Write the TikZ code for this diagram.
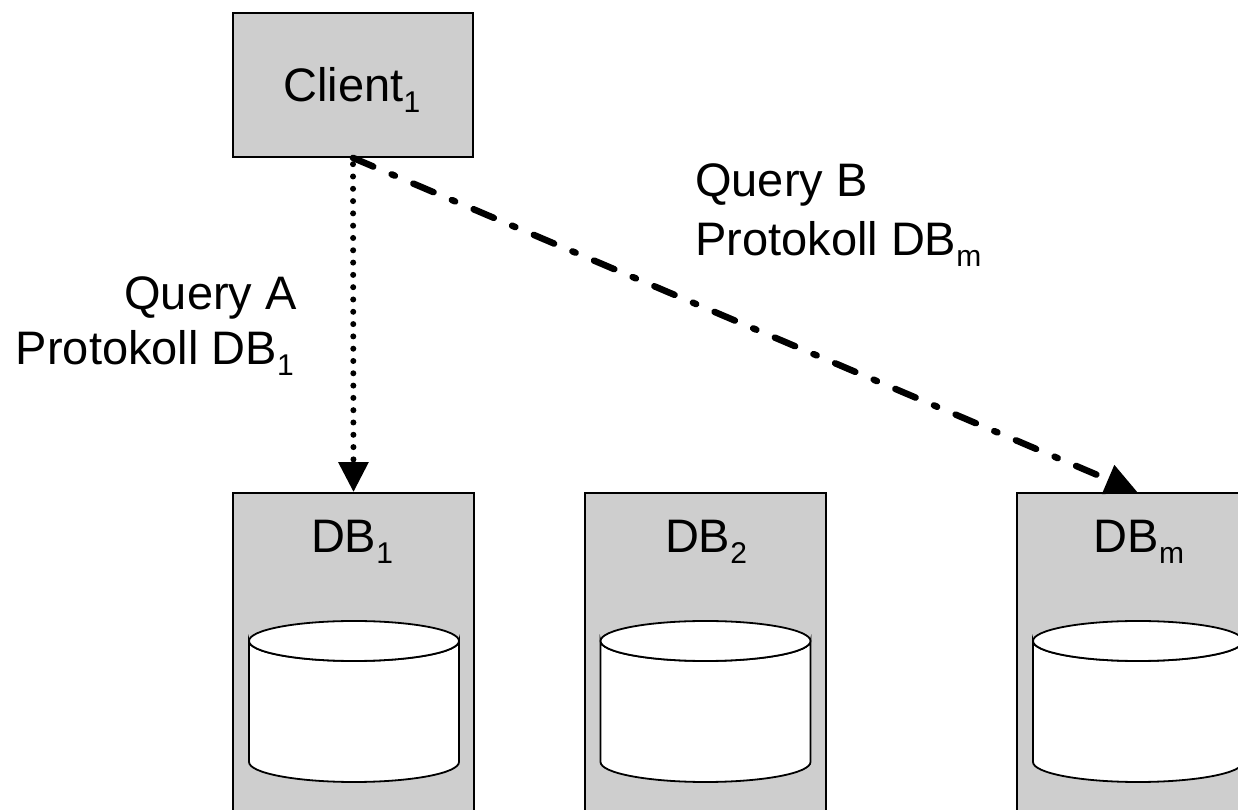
\documentclass[tikz,border=0pt]{standalone}
\usepackage{fontspec}
\setmainfont{Liberation Sans}
\usetikzlibrary{arrows.meta}
\definecolor{boxgray}{RGB}{206,206,206}
\newcommand\dsub[1]{\raisebox{-10.5pt}{\fontsize{30}{32}\selectfont #1}}
\tikzset{
  box/.style={draw=black, line width=1.8pt, fill=boxgray, rectangle, inner sep=0pt},
  txt/.style={inner sep=0pt, font=\fontsize{47}{55}\selectfont},
  cylline/.style={draw=black, line width=1.8pt, fill=white},
  dotconn/.style={line width=6pt, line cap=round, dash pattern=on 0pt off 12.3pt, dash phase=6pt,
    -{Triangle[length=30pt,width=29pt]}},
  dashdotconn/.style={line width=6.5pt, line cap=round, dash pattern=on 22pt off 20pt on 3.5pt off 20pt,
    -{Triangle[length=32pt,width=30pt]}}
}
\begin{document}
\begin{tikzpicture}[x=1pt,y=1pt]
\useasboundingbox (0,0) rectangle (1238,810);
\clip (0,0) rectangle (1238,810);
% client
\node[box, minimum width=240pt, minimum height=144pt] (client) at (353,725) {};
\node[txt, anchor=base] (clientlbl) at (352,708) {Client\dsub{1}};
% databases
\node[box, minimum width=241pt, minimum height=342pt] (db1) at (353.5,146) {};
\node[box, minimum width=241pt, minimum height=342pt] (db2) at (705.5,146) {};
\node[box, minimum width=241pt, minimum height=342pt] (dbm) at (1137.5,146) {};
\node[txt, anchor=base] (db1lbl) at (352,257) {DB\dsub{1}};
\node[txt, anchor=base] (db2lbl) at (706,257) {DB\dsub{2}};
\node[txt, anchor=base] (dbmlbl) at (1139,257) {DB\dsub{m}};
% cylinders
\foreach \cx in {354,705.5,1138}{
  \path[cylline] (\cx-105,169) -- (\cx-105,48)
    arc[start angle=180, end angle=360, x radius=105pt, y radius=20pt]
    -- (\cx+105,169)
    arc[start angle=0, end angle=-180, x radius=105pt, y radius=20pt] -- cycle;
  \draw[cylline] (\cx,169) ellipse[x radius=105pt, y radius=20pt];
}
% labels
\node[txt, anchor=base east] (qa) at (297,500) {Query A};
\node[txt, anchor=base east] (pa) at (294,445) {Protokoll DB\dsub{1}};
\node[txt, anchor=base west] (qb) at (695,613) {Query B};
\node[txt, anchor=base west] (pb) at (695,554) {Protokoll DB\dsub{m}};
% connectors
\draw[dotconn] (client.south) -- (db1.north);
\draw[dashdotconn] (client.south) -- (dbm.north);
\end{tikzpicture}
\end{document}
